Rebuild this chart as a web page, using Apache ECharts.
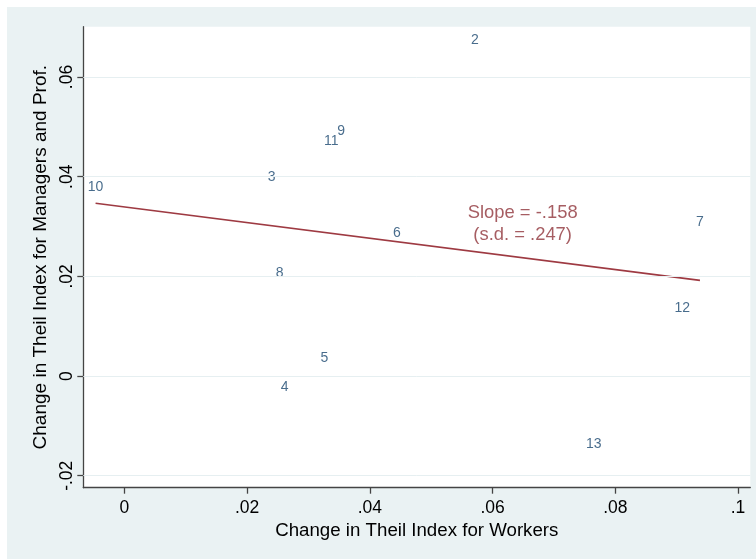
<!DOCTYPE html>
<html>
<head>
<meta charset="utf-8">
<script src="https://cdn.jsdelivr.net/npm/echarts@6/dist/echarts.min.js"></script>
<style>
html, body { margin: 0; padding: 0; background: #fff; }
#chart {
  width: 756px; height: 559px;
  background: linear-gradient(#EAF2F3, #EAF2F3) 7px 7px / 749px 552px no-repeat, #fff;
}
</style>
</head>
<body>
<div id="chart"></div>
<script>
// ---- data ----
const pointIds = ['2', '3', '4', '5', '6', '7', '8', '9', '10', '11', '12', '13'];
const workerChange  = [0.0571, 0.0240, 0.0261, 0.0326, 0.0444, 0.0938, 0.0253, 0.0353, -0.0047, 0.0337, 0.0909, 0.0765];
const managerChange = [0.0675, 0.0400, -0.0023, 0.0036, 0.0286, 0.0308, 0.0207, 0.0492, 0.0380, 0.0472, 0.0136, -0.0137];
const xTicks = [0, 0.02, 0.04, 0.06, 0.08, 0.1];
const yTicks = [-0.02, 0, 0.02, 0.04, 0.06];
const xRange = [-0.0067, 0.1020];
const yRange = [-0.0224, 0.0701];
const slopeLines = ['Slope = -.158', '(s.d. = .247)'];
const slopeAt = [0.0649, 0.0305];
const xTitle = 'Change in Theil Index for Workers';
const yTitle = 'Change in Theil Index for Managers and Prof.';

// ---- OLS fit from the points ----
const n = workerChange.length;
const mx = workerChange.reduce((a, b) => a + b, 0) / n;
const my = managerChange.reduce((a, b) => a + b, 0) / n;
let sxy = 0, sxx = 0;
for (let i = 0; i < n; i++) {
  sxy += (workerChange[i] - mx) * (managerChange[i] - my);
  sxx += (workerChange[i] - mx) ** 2;
}
const b = sxy / sxx, a0 = my - b * mx;
const xmin = Math.min(...workerChange), xmax = Math.max(...workerChange);
const fitData = [[xmin, a0 + b * xmin], [xmax, a0 + b * xmax]];

const fmt = v => {
  if (Math.abs(v) < 1e-12) return '0';
  return String(+v.toFixed(4)).replace('0.', '.');
};
const FONT = '"Liberation Sans", Arial, Helvetica, sans-serif';
const AXC = '#444';

const chart = echarts.init(document.getElementById('chart'), null, { renderer: 'canvas' });
chart.setOption({
  backgroundColor: 'transparent',
  animation: false,
  grid: {
    left: 83.3, right: 5.7, top: 26.7, bottom: 71.3,
    show: true, backgroundColor: '#ffffff', borderWidth: 0
  },
  xAxis: {
    type: 'value', min: xRange[0], max: xRange[1],
    name: xTitle, nameLocation: 'middle', nameGap: 31,
    nameTextStyle: { fontFamily: FONT, fontSize: 18.7, color: '#000' },
    axisLine: { show: true, onZero: false, lineStyle: { color: AXC, width: 1.3 } },
    axisTick: { show: true, length: 6, customValues: xTicks, lineStyle: { color: AXC, width: 1.3 } },
    axisLabel: { customValues: xTicks, formatter: fmt, margin: 11, fontFamily: FONT, fontSize: 17.5, color: '#000' },
    splitLine: { show: false }
  },
  yAxis: {
    type: 'value', min: yRange[0], max: yRange[1],
    name: yTitle, nameLocation: 'middle', nameGap: 32, nameRotate: 90,
    nameTextStyle: { fontFamily: FONT, fontSize: 19, color: '#000' },
    axisLine: { show: true, onZero: false, lineStyle: { color: AXC, width: 1.3 } },
    axisTick: { show: true, length: 6, customValues: yTicks, lineStyle: { color: AXC, width: 1.3 } },
    axisLabel: { customValues: yTicks, formatter: fmt, rotate: 90, margin: 7.5, fontFamily: FONT, fontSize: 17.5, color: '#000' },
    splitLine: { show: false }
  },
  series: [
    {
      type: 'line', data: [], silent: true,
      markLine: {
        silent: true, symbol: 'none', label: { show: false },
        lineStyle: { color: '#E6EFF1', width: 1, type: 'solid' },
        data: yTicks.map(v => ({ yAxis: v }))
      }
    },
    {
      type: 'line', data: fitData, showSymbol: false, silent: true, z: 3,
      lineStyle: { color: '#9E3A42', width: 1.7 }
    },
    {
      type: 'scatter', z: 4, silent: true,
      symbolSize: 0.1, itemStyle: { color: 'rgba(0,0,0,0)' },
      data: workerChange.map((x, i) => ({ value: [x, managerChange[i]], name: pointIds[i] })),
      label: {
        show: true, position: 'inside', formatter: p => p.name,
        fontFamily: FONT, fontSize: 14, color: '#1A476F'
      }
    },
    {
      type: 'scatter', z: 4, silent: true,
      symbolSize: 0.1, itemStyle: { color: 'rgba(0,0,0,0)' },
      data: [{ value: slopeAt }],
      label: {
        show: true, position: 'inside', formatter: slopeLines.join('\n'),
        fontFamily: FONT, fontSize: 18.4, lineHeight: 21.7, align: 'center', color: '#90353B'
      }
    }
  ]
});
</script>
</body>
</html>
